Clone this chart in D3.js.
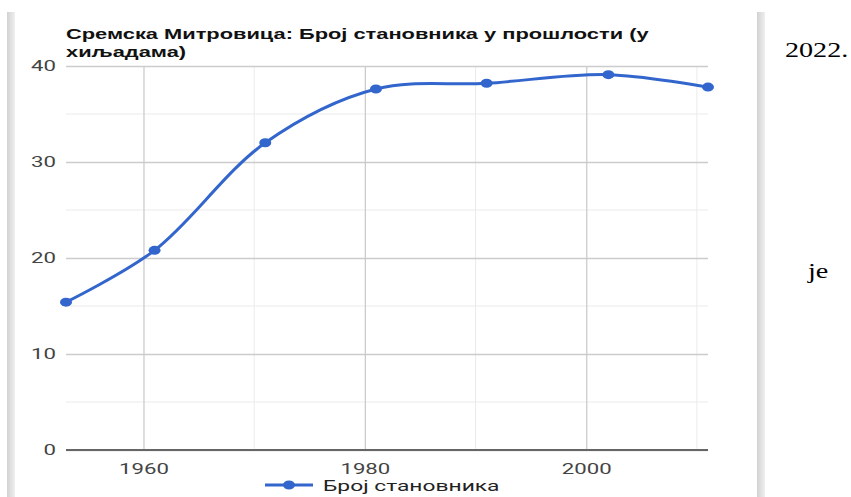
<!DOCTYPE html>
<html>
<head>
<meta charset="utf-8">
<script src="https://cdn.jsdelivr.net/npm/d3@7"></script>
<style>
  body { margin: 0; background: #fff; }
  svg { display: block; }
</style>
</head>
<body>
<div id="chart"></div>
<script>
// population of Sremska Mitrovica, thousands
var years = [1953, 1961, 1971, 1981, 1991, 2002, 2011];
var population = [15.4, 20.8, 32.0, 37.6, 38.2, 39.1, 37.8];
var yMajor = [0, 10, 20, 30, 40];
var yMinor = [5, 15, 25, 35];
var xMajor = [1960, 1980, 2000];
var xMinor = [1970, 1990, 2010];
var titleLines = ["Сремска Митровица: Број становника у прошлости (у", "хиљадама)"];
var seriesName = "Број становника";

var width = 851, height = 497;
var stretch = 1.48; // the screenshot is stretched sideways
var titleStretch = 1.56;

var svg = d3.select("#chart").append("svg")
    .attr("width", width)
    .attr("height", height);

// grey page edges on both sides
var defs = svg.append("defs");
var grad = defs.append("linearGradient").attr("id", "edge");
grad.append("stop").attr("offset", "0%").attr("stop-color", "#d2d2d2");
grad.append("stop").attr("offset", "100%").attr("stop-color", "#efefef");
svg.append("rect").attr("x", 7).attr("y", 12).attr("width", 8).attr("height", 485).attr("fill", "url(#edge)");
svg.append("rect").attr("x", 757).attr("y", 12).attr("width", 8).attr("height", 485).attr("fill", "url(#edge)");

var x = d3.scaleLinear().domain([1953, 2011]).range([66, 708]);
var y = d3.scaleLinear().domain([0, 40]).range([450, 66]);

// minor gridlines
svg.selectAll(".ymin").data(yMinor).enter().append("line")
    .attr("x1", x.range()[0]).attr("x2", x.range()[1])
    .attr("y1", function (d) { return y(d); }).attr("y2", function (d) { return y(d); })
    .attr("stroke", "#ebebeb").attr("stroke-width", 1);
svg.selectAll(".xmin").data(xMinor).enter().append("line")
    .attr("x1", function (d) { return x(d); }).attr("x2", function (d) { return x(d); })
    .attr("y1", y.range()[1]).attr("y2", y.range()[0])
    .attr("stroke", "#ebebeb").attr("stroke-width", 1);

// major gridlines + labels via axes
var yAxis = svg.append("g")
    .attr("transform", "translate(" + x.range()[0] + ",0)")
    .call(d3.axisLeft(y).tickValues(yMajor).tickSize(-(x.range()[1] - x.range()[0])).tickPadding(10));
var xAxis = svg.append("g")
    .attr("transform", "translate(0," + y.range()[0] + ")")
    .call(d3.axisBottom(x).tickValues(xMajor).tickFormat(d3.format("d")).tickSize(-(y.range()[0] - y.range()[1])).tickPadding(13));

[yAxis, xAxis].forEach(function (g) {
    g.select(".domain").remove();
    g.selectAll(".tick line").attr("stroke", "#cccccc").attr("stroke-width", 1.3);
    g.selectAll(".tick text")
        .attr("fill", "#444")
        .style("font-family", "Roboto, 'Noto Sans', sans-serif")
        .style("font-size", "15px");
});
// stretch tick labels sideways around their anchor
yAxis.selectAll(".tick text").each(function () {
    var t = d3.select(this);
    var tx = +t.attr("x");
    t.attr("x", 0).attr("transform", "translate(" + tx + ",0) scale(" + stretch + ",1)");
});
xAxis.selectAll(".tick text").attr("transform", "scale(" + stretch + ",1)");

// baseline
svg.append("line")
    .attr("x1", x.range()[0]).attr("x2", x.range()[1])
    .attr("y1", y(0)).attr("y2", y(0))
    .attr("stroke", "#666").attr("stroke-width", 2);

// series
var pts = years.map(function (d, i) { return [d, population[i]]; });
var line = d3.line()
    .x(function (d) { return x(d[0]); })
    .y(function (d) { return y(d[1]); })
    .curve(d3.curveCatmullRom.alpha(0.5));

svg.append("path")
    .datum(pts)
    .attr("d", line)
    .attr("fill", "none")
    .attr("stroke", "#3366cc")
    .attr("stroke-width", 3);

svg.selectAll(".dot").data(pts).enter().append("ellipse")
    .attr("cx", function (d) { return x(d[0]); })
    .attr("cy", function (d) { return y(d[1]); })
    .attr("rx", 6).attr("ry", 4.5)
    .attr("fill", "#3366cc");

// title
svg.selectAll(".title").data(titleLines).enter().append("text")
    .attr("transform", function (d, i) { return "translate(66," + (39 + i * 18) + ") scale(" + titleStretch + ",1)"; })
    .style("font-family", "Arial, 'Liberation Sans', sans-serif")
    .style("font-weight", "bold")
    .style("font-size", "14px")
    .attr("fill", "#111")
    .text(function (d) { return d; });

// legend
var legend = svg.append("g").attr("transform", "translate(265,485)");
legend.append("line").attr("x1", 0).attr("x2", 48).attr("y1", 0).attr("y2", 0)
    .attr("stroke", "#3366cc").attr("stroke-width", 3);
legend.append("ellipse").attr("cx", 24).attr("cy", 0).attr("rx", 6).attr("ry", 4.5).attr("fill", "#3366cc");
legend.append("text")
    .attr("transform", "translate(58,5.5) scale(1.52,1)")
    .style("font-family", "Roboto, 'Noto Sans', sans-serif")
    .style("font-size", "15px")
    .attr("fill", "#222")
    .text(seriesName);

// surrounding document text
svg.append("text")
    .attr("transform", "translate(785,57) scale(1.34,1)")
    .style("font-family", "'Liberation Serif', 'Times New Roman', serif")
    .style("font-size", "21px")
    .attr("fill", "#000")
    .text("2022.");
svg.append("text")
    .attr("transform", "translate(808,278) scale(1.34,1)")
    .style("font-family", "'Liberation Serif', 'Times New Roman', serif")
    .style("font-size", "21px")
    .attr("fill", "#000")
    .text("je");
</script>
</body>
</html>
